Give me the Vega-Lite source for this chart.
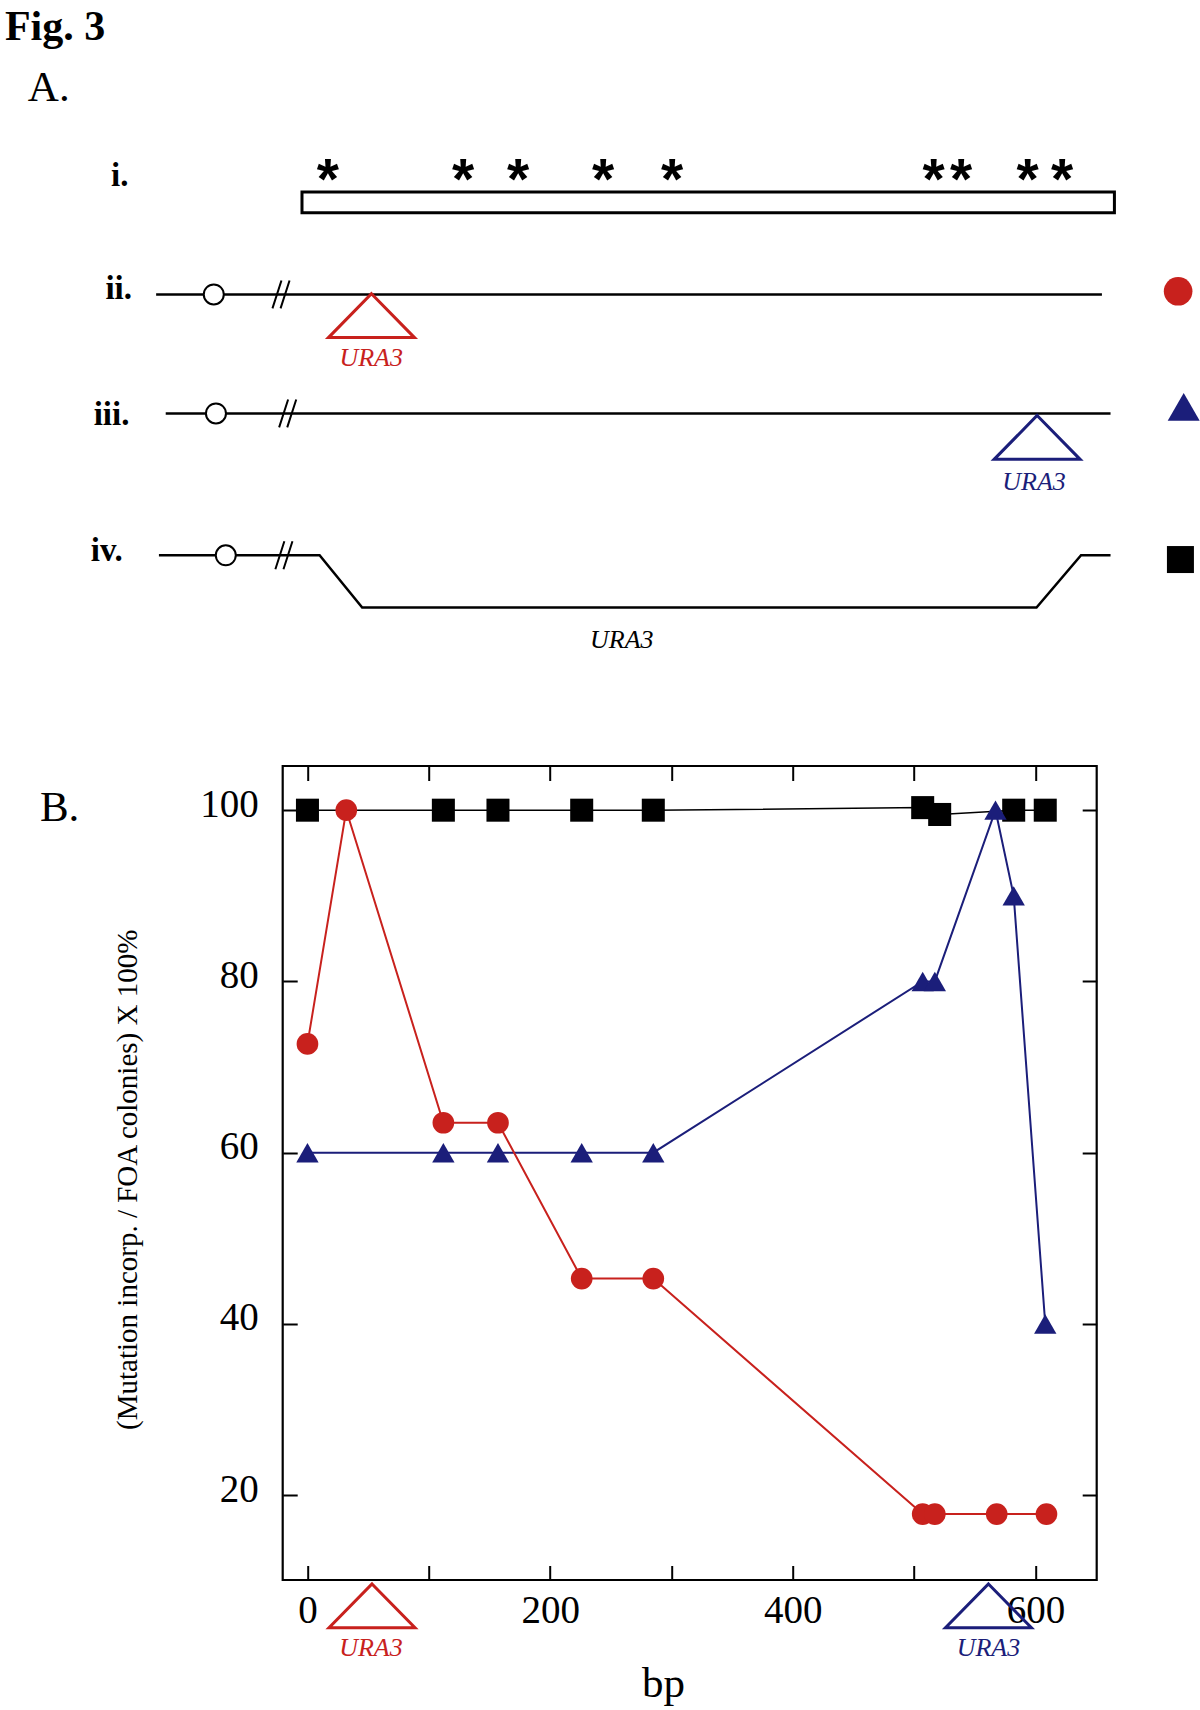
{
  "$schema": "https://vega.github.io/schema/vega-lite/v6.json",
  "width": 814,
  "height": 814,
  "autosize": {"type": "none"},
  "padding": {"left": 282.7, "top": 766, "right": 103.3, "bottom": 130},
  "background": "white",
  "config": {
    "font": "Liberation Serif",
    "view": {"stroke": "black", "strokeWidth": 2.2},
    "axis": {"grid": false, "domain": false, "tickColor": "black", "tickWidth": 2, "tickSize": -14.5, "labelColor": "black", "labelFont": "Liberation Serif", "labelFontSize": 39, "labelFlush": false, "labelOverlap": false, "labelBound": false, "titleColor": "black", "titleFont": "Liberation Serif", "titleFontWeight": "normal"}
  },
  "datasets": {
    "curves": [
      {"row":"iv","bp":0,"pct":100},{"row":"iv","bp":112,"pct":100},{"row":"iv","bp":157,"pct":100},{"row":"iv","bp":226,"pct":100},{"row":"iv","bp":285,"pct":100},{"row":"iv","bp":507,"pct":100.3},{"row":"iv","bp":521,"pct":99.5},{"row":"iv","bp":582,"pct":100},{"row":"iv","bp":608,"pct":100},
      {"row":"iii","bp":0,"pct":60},{"row":"iii","bp":112,"pct":60},{"row":"iii","bp":157,"pct":60},{"row":"iii","bp":226,"pct":60},{"row":"iii","bp":285,"pct":60},{"row":"iii","bp":507,"pct":80},{"row":"iii","bp":517,"pct":80},{"row":"iii","bp":567,"pct":100},{"row":"iii","bp":582,"pct":90},{"row":"iii","bp":608,"pct":40},
      {"row":"ii","bp":0,"pct":72.7},{"row":"ii","bp":32,"pct":100},{"row":"ii","bp":112,"pct":63.5},{"row":"ii","bp":157,"pct":63.5},{"row":"ii","bp":226,"pct":45.3},{"row":"ii","bp":285,"pct":45.3},{"row":"ii","bp":507,"pct":17.8},{"row":"ii","bp":517,"pct":17.8},{"row":"ii","bp":568,"pct":17.8},{"row":"ii","bp":609,"pct":17.8}
    ],
    "genebox": [{"x": -4.5, "x2": 665, "y": 172.2, "y2": 169.78}],
    "stars": [
      {"x": 16.9, "y": 171.4, "label": "*"},{"x": 128.2, "y": 171.4, "label": "*"},{"x": 173.5, "y": 171.4, "label": "*"},{"x": 243.6, "y": 171.4, "label": "*"},{"x": 300.5, "y": 171.4, "label": "*"},{"x": 515.9, "y": 171.4, "label": "*"},{"x": 538.6, "y": 171.4, "label": "*"},{"x": 593.4, "y": 171.4, "label": "*"},{"x": 621.9, "y": 171.4, "label": "*"}
    ],
    "chromosomes": [
      {"row": "ii", "x": -124.7, "x2": 654.7, "y": 160.23},
      {"row": "iii", "x": -116.8, "x2": 661.8, "y": 146.33}
    ],
    "deletion": [
      {"step": 1, "x": -122.4, "y": 129.77},{"step": 2, "x": 10, "y": 129.77},{"step": 3, "x": 45.1, "y": 123.66},{"step": 4, "x": 600.8, "y": 123.66},{"step": 5, "x": 637.5, "y": 129.77},{"step": 6, "x": 661.8, "y": 129.77}
    ],
    "centromeres": [
      {"row": "ii", "x": -77.2, "y": 160.23},{"row": "iii", "x": -75.4, "y": 146.33},{"row": "iv", "x": -67.3, "y": 129.77}
    ],
    "breaks": [
      {"row": "ii", "x": -21.8, "y": 160.23},{"row": "iii", "x": -16.3, "y": 146.33},{"row": "iv", "x": -19.4, "y": 129.77}
    ],
    "inserts": [
      {"row": "ii", "x": 52.75, "y": 157.75},{"row": "iii", "x": 601.3, "y": 143.53},{"row": "ii", "x": 53.2, "y": 7.08},{"row": "iii", "x": 561.2, "y": 7.08}
    ],
    "ura3": [
      {"row": "ii", "x": 52.5, "y": 151.82, "label": "URA3"},{"row": "iii", "x": 598.8, "y": 137.42, "label": "URA3"},{"row": "iv", "x": 259, "y": 118.94, "label": "URA3"},{"row": "ii", "x": 52.3, "y": 1.22, "label": "URA3"},{"row": "iii", "x": 561.2, "y": 1.22, "label": "URA3"}
    ],
    "keys": [
      {"row": "ii", "x": 717.5, "y": 160.6},{"row": "iii", "x": 722.1, "y": 147.09},{"row": "iv", "x": 719.4, "y": 129.27}
    ],
    "headings": [{"x": -249.3, "y": 190.0, "label": "Fig. 3"}],
    "panels": [{"x": -230.4, "y": 182.83, "label": "A."},{"x": -220.5, "y": 98.74, "label": "B."}],
    "rowlabels": [
      {"x": -147.5, "y": 172.84, "label": "i."},{"x": -144.6, "y": 159.68, "label": "ii."},{"x": -146.7, "y": 145.04, "label": "iii."},{"x": -152.1, "y": 129.10, "label": "iv."}
    ]
  },
  "resolve": {"axis": {"x": "independent", "y": "independent"}},
  "layer": [
    {
      "data": {"name": "genebox"},
      "mark": {"type": "rect", "fill": "white", "stroke": "black", "strokeWidth": 3},
      "encoding": {
        "x": {"field": "x", "type": "quantitative", "scale": {"domain": [-20.4, 650.4], "nice": false, "zero": false}, "axis": null},
        "x2": {"field": "x2"},
        "y": {"field": "y", "type": "quantitative", "scale": {"domain": [10.1, 105.16], "nice": false, "zero": false}, "axis": null},
        "y2": {"field": "y2"}
      }
    },
    {
      "data": {"name": "stars"},
      "mark": {"type": "text", "font": "Liberation Sans", "fontWeight": "bold", "fontSize": 57, "align": "center", "baseline": "alphabetic", "color": "black"},
      "encoding": {
        "x": {"field": "x", "type": "quantitative", "axis": null},
        "y": {"field": "y", "type": "quantitative", "axis": null},
        "text": {"field": "label"}
      }
    },
    {
      "data": {"name": "chromosomes"},
      "mark": {"type": "rule", "color": "black", "strokeWidth": 2.5},
      "encoding": {
        "x": {"field": "x", "type": "quantitative", "axis": null},
        "x2": {"field": "x2"},
        "y": {"field": "y", "type": "quantitative", "axis": null}
      }
    },
    {
      "data": {"name": "deletion"},
      "mark": {"type": "line", "color": "black", "strokeWidth": 2.5},
      "encoding": {
        "x": {"field": "x", "type": "quantitative", "axis": null},
        "y": {"field": "y", "type": "quantitative", "axis": null},
        "order": {"field": "step"}
      }
    },
    {
      "data": {"name": "centromeres"},
      "mark": {"type": "point", "shape": "circle", "size": 400, "filled": true, "fill": "white", "stroke": "black", "strokeWidth": 2, "opacity": 1},
      "encoding": {
        "x": {"field": "x", "type": "quantitative", "axis": null},
        "y": {"field": "y", "type": "quantitative", "axis": null}
      }
    },
    {
      "data": {"name": "breaks"},
      "mark": {"type": "point", "shape": "M-0.57,0.93L0.03,-0.93M-0.03,0.93L0.57,-0.93", "size": 900, "filled": false, "stroke": "black", "strokeWidth": 2, "opacity": 1},
      "encoding": {
        "x": {"field": "x", "type": "quantitative", "axis": null},
        "y": {"field": "y", "type": "quantitative", "axis": null}
      }
    },
    {
      "data": {"name": "inserts"},
      "mark": {"type": "point", "shape": "M0,-0.51L1,0.51L-1,0.51Z", "size": 7396, "filled": false, "strokeWidth": 3, "opacity": 1},
      "encoding": {
        "x": {"field": "x", "type": "quantitative", "axis": null},
        "y": {"field": "y", "type": "quantitative", "axis": null},
        "color": {"field": "row", "type": "nominal", "scale": {"domain": ["ii", "iii", "iv"], "range": ["#c8211d", "#1b1e7a", "#000000"]}, "legend": null}
      }
    },
    {
      "data": {"name": "ura3"},
      "mark": {"type": "text", "fontStyle": "italic", "fontSize": 26, "align": "center", "baseline": "alphabetic"},
      "encoding": {
        "x": {"field": "x", "type": "quantitative", "axis": null},
        "y": {"field": "y", "type": "quantitative", "axis": null},
        "text": {"field": "label"},
        "color": {"field": "row", "type": "nominal", "legend": null}
      }
    },
    {
      "data": {"name": "keys"},
      "transform": [{"filter": "datum.row === 'ii'"}],
      "mark": {"type": "point", "shape": "circle", "size": 820, "filled": true, "opacity": 1},
      "encoding": {
        "x": {"field": "x", "type": "quantitative", "axis": null},
        "y": {"field": "y", "type": "quantitative", "axis": null},
        "color": {"field": "row", "type": "nominal", "legend": null}
      }
    },
    {
      "data": {"name": "keys"},
      "transform": [{"filter": "datum.row === 'iii'"}],
      "mark": {"type": "point", "shape": "triangle-up", "size": 1024, "filled": true, "opacity": 1},
      "encoding": {
        "x": {"field": "x", "type": "quantitative", "axis": null},
        "y": {"field": "y", "type": "quantitative", "axis": null},
        "color": {"field": "row", "type": "nominal", "legend": null}
      }
    },
    {
      "data": {"name": "keys"},
      "transform": [{"filter": "datum.row === 'iv'"}],
      "mark": {"type": "point", "shape": "square", "size": 729, "filled": true, "opacity": 1},
      "encoding": {
        "x": {"field": "x", "type": "quantitative", "axis": null},
        "y": {"field": "y", "type": "quantitative", "axis": null},
        "color": {"field": "row", "type": "nominal", "legend": null}
      }
    },
    {
      "data": {"name": "headings"},
      "mark": {"type": "text", "fontWeight": "bold", "fontSize": 42, "align": "left", "baseline": "alphabetic", "color": "black"},
      "encoding": {
        "x": {"field": "x", "type": "quantitative", "axis": null},
        "y": {"field": "y", "type": "quantitative", "axis": null},
        "text": {"field": "label"}
      }
    },
    {
      "data": {"name": "panels"},
      "mark": {"type": "text", "fontSize": 43, "align": "left", "baseline": "alphabetic", "color": "black"},
      "encoding": {
        "x": {"field": "x", "type": "quantitative", "axis": null},
        "y": {"field": "y", "type": "quantitative", "axis": null},
        "text": {"field": "label"}
      }
    },
    {
      "data": {"name": "rowlabels"},
      "mark": {"type": "text", "fontWeight": "bold", "fontSize": 33, "align": "right", "baseline": "alphabetic", "color": "black"},
      "encoding": {
        "x": {"field": "x", "type": "quantitative", "axis": null},
        "y": {"field": "y", "type": "quantitative", "axis": null},
        "text": {"field": "label"}
      }
    },
    {
      "data": {"name": "curves"},
      "transform": [{"filter": "datum.row === 'iv'"}],
      "mark": {"type": "line", "strokeWidth": 1.5},
      "encoding": {
        "x": {"field": "bp", "type": "quantitative", "axis": {"orient": "bottom", "values": [0, 100, 200, 300, 400, 500, 600], "labelExpr": "datum.value % 200 === 0 ? datum.label : ''", "labelPadding": 26, "title": "bp", "titleFontSize": 43, "titleX": 380.3, "titleY": 116, "titleBaseline": "alphabetic", "titleAlign": "center"}},
        "y": {"field": "pct", "type": "quantitative", "axis": {"orient": "left", "values": [20, 40, 60, 80, 100], "labelPadding": 39, "labelOffset": -6, "title": "(Mutation incorp. / FOA colonies) X 100%", "titleFontSize": 29, "titleAngle": 270, "titleX": -146, "titleY": 413.3, "titleBaseline": "alphabetic", "titleAlign": "center"}},
        "color": {"field": "row", "type": "nominal", "legend": null}
      }
    },
    {
      "data": {"name": "curves"},
      "transform": [{"filter": "datum.row === 'iii'"}],
      "mark": {"type": "line", "strokeWidth": 2},
      "encoding": {
        "x": {"field": "bp", "type": "quantitative", "axis": null},
        "y": {"field": "pct", "type": "quantitative", "axis": null},
        "color": {"field": "row", "type": "nominal", "legend": null}
      }
    },
    {
      "data": {"name": "curves"},
      "transform": [{"filter": "datum.row === 'ii'"}],
      "mark": {"type": "line", "strokeWidth": 2},
      "encoding": {
        "x": {"field": "bp", "type": "quantitative", "axis": null},
        "y": {"field": "pct", "type": "quantitative", "axis": null},
        "color": {"field": "row", "type": "nominal", "legend": null}
      }
    },
    {
      "data": {"name": "curves"},
      "mark": {"type": "point", "filled": true, "opacity": 1},
      "encoding": {
        "x": {"field": "bp", "type": "quantitative", "axis": {"orient": "top", "values": [0, 100, 200, 300, 400, 500, 600], "labels": false, "title": null}},
        "y": {"field": "pct", "type": "quantitative", "axis": {"orient": "right", "values": [20, 40, 60, 80, 100], "labels": false, "title": null}},
        "color": {"field": "row", "type": "nominal", "legend": null},
        "shape": {"field": "row", "type": "nominal", "scale": {"domain": ["ii", "iii", "iv"], "range": ["circle", "triangle-up", "square"]}, "legend": null},
        "size": {"field": "row", "type": "ordinal", "scale": {"domain": ["ii", "iii", "iv"], "range": [470, 530, 455]}, "legend": null}
      }
    }
  ]
}
